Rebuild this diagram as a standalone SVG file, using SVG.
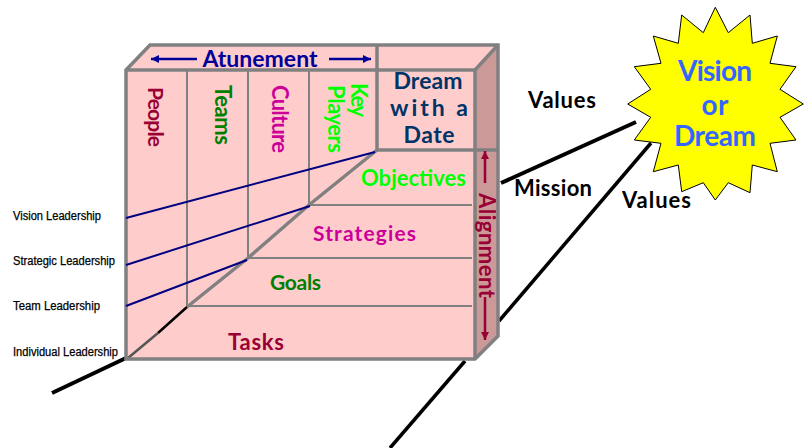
<svg xmlns="http://www.w3.org/2000/svg" width="806" height="448" viewBox="0 0 806 448">
<style>
.c{font-family:"Lato","Open Sans",sans-serif;font-weight:700}
.l{font-family:"Liberation Sans",Arial,sans-serif;font-size:12px;fill:#000;stroke:#000;stroke-width:.25}
.m{text-anchor:middle}
.g{fill:none;stroke:#808080;stroke-width:2}
.G{fill:none;stroke:#808080;stroke-width:3.5;stroke-linejoin:miter}
.k{fill:none;stroke:#000;stroke-linecap:butt}
.n{fill:none;stroke:#000080;stroke-width:2}
</style>
<defs>
<marker id="an" markerUnits="userSpaceOnUse" markerWidth="9" markerHeight="8" refX="8" refY="4" orient="auto"><path d="M0 0L8 4L0 8Z" fill="#000099"/></marker>
<marker id="ar" markerUnits="userSpaceOnUse" markerWidth="9" markerHeight="8" refX="8" refY="4" orient="auto"><path d="M0 0L8 4L0 8Z" fill="#990033"/></marker>
</defs>
<g id="connectors">
<path class="k" stroke-width="4" d="M52 393L126 358"/>
<path class="k" stroke-width="4" d="M501 183L636 122"/>
<path class="k" stroke-width="3.5" d="M390 448L465 361"/>
<path class="k" stroke-width="3.5" d="M499 321L651 143"/>
</g>
<g id="cube">
<path d="M150 45H498L475 70H126Z" fill="#FFCCCC"/>
<rect x="126" y="70" width="349" height="289" fill="#FFCCCC"/>
<path d="M475 70L498 45V336L475 359Z" fill="#CC9999"/>
<path class="g" d="M187 70V306M248 70V258M309 70V205M309 205H472M248 258H472M187 306H472"/>
<path class="G" stroke-width="3" d="M377 150L309 205L248 258L187 307"/>
<path fill="none" stroke="#000" stroke-width="2.5" d="M187 307L158 333"/>
<path fill="none" stroke="#555" stroke-width="2.5" d="M158 333L128 358"/>
<path class="G" d="M126 359V70L150 45H498V336L475 359ZM126 70H475V359M475 70L498 45M377 45V150M377 150H498"/>
<path class="n" d="M126 218L375 152M126 265L310 206M126 306L247 260"/>
</g>
<g id="atunement">
<path d="M197 59H151" fill="none" stroke="#000099" stroke-width="2.5" marker-end="url(#an)"/>
<path d="M329 59H371" fill="none" stroke="#000099" stroke-width="2.5" marker-end="url(#an)"/>
<text class="c m" x="260" y="67" font-size="23" fill="#000099" textLength="115">Atunement</text>
</g>
<g id="people"><text class="c" transform="translate(148 87) rotate(90)" font-size="21" fill="#990033" textLength="60">People</text></g>
<g id="teams"><text class="c" transform="translate(215 85) rotate(90)" font-size="22" fill="#008000" textLength="60">Teams</text></g>
<g id="culture"><text class="c" transform="translate(272 85) rotate(90)" font-size="22" fill="#CC0099" textLength="68">Culture</text></g>
<g id="key-players">
<text class="c" transform="translate(351 83) rotate(90)" font-size="22" fill="#00FF00" textLength="34">Key</text>
<text class="c" transform="translate(328 85) rotate(90)" font-size="22" fill="#00FF00" textLength="68">Players</text>
</g>
<g id="dream">
<text class="c m" x="428" y="89" font-size="23" fill="#003366" textLength="69">Dream</text>
<text class="c" x="390" y="116" font-size="23" fill="#003366" textLength="78">with  a</text>
<text class="c m" x="429" y="143" font-size="23" fill="#003366" textLength="51">Date</text>
</g>
<g id="objectives"><text class="c" x="361" y="186" font-size="22" fill="#00FF00" textLength="105">Objectives</text></g>
<g id="strategies"><text class="c" x="313" y="241" font-size="21" fill="#CC0099" textLength="103">Strategies</text></g>
<g id="goals"><text class="c" x="270" y="290" font-size="21" fill="#008000" textLength="51">Goals</text></g>
<g id="tasks"><text class="c" x="228" y="350" font-size="22" fill="#990033" textLength="56">Tasks</text></g>
<g id="alignment">
<path d="M485 183V151" fill="none" stroke="#990033" stroke-width="2.5" marker-end="url(#ar)"/>
<path d="M485 297V340" fill="none" stroke="#990033" stroke-width="2.5" marker-end="url(#ar)"/>
<text class="c" transform="translate(479 193) rotate(90)" font-size="22" fill="#990033" textLength="105">Alignment</text>
</g>
<g id="leadership-labels">
<text class="l" x="13" y="220" textLength="88" lengthAdjust="spacingAndGlyphs">Vision Leadership</text>
<text class="l" x="13" y="265" textLength="102" lengthAdjust="spacingAndGlyphs">Strategic Leadership</text>
<text class="l" x="13" y="310" textLength="87" lengthAdjust="spacingAndGlyphs">Team Leadership</text>
<text class="l" x="13" y="356" textLength="105" lengthAdjust="spacingAndGlyphs">Individual Leadership</text>
</g>
<g id="values-top"><text class="c" x="528" y="108" font-size="22" fill="#000" textLength="68">Values</text></g>
<g id="mission"><text class="c" x="514" y="196" font-size="22" fill="#000" textLength="78">Mission</text></g>
<g id="values-bottom"><text class="c" x="622" y="208" font-size="22" fill="#000" textLength="69">Values</text></g>
<g id="vision">
<polygon points="715.3,7.3 728.3,32.7 750,15 752.3,43.3 777.3,36 770,63.3 796,66.7 780,89.3 803.3,104 780,117.3 796,140 770,143.3 777.3,171.7 752.3,165 750,192.7 728.3,182.7 715.3,200 703.3,182.7 681.7,191.7 678.3,165 653.3,171.7 661,143.3 634.3,140 650.7,117.3 627.7,104 650.7,89.3 634.3,66.7 661,63.3 653.3,36 678.3,43.3 681.7,15 703.3,32.7" fill="#FFFF00" stroke="#000" stroke-width="1"/>
<text class="c m" x="715" y="81" font-size="28" fill="#3366FF" textLength="74">Vision</text>
<text class="c m" x="715" y="115" font-size="28" fill="#3366FF" textLength="27">or</text>
<text class="c m" x="715" y="146" font-size="28" fill="#3366FF" textLength="82">Dream</text>
</g>
</svg>
